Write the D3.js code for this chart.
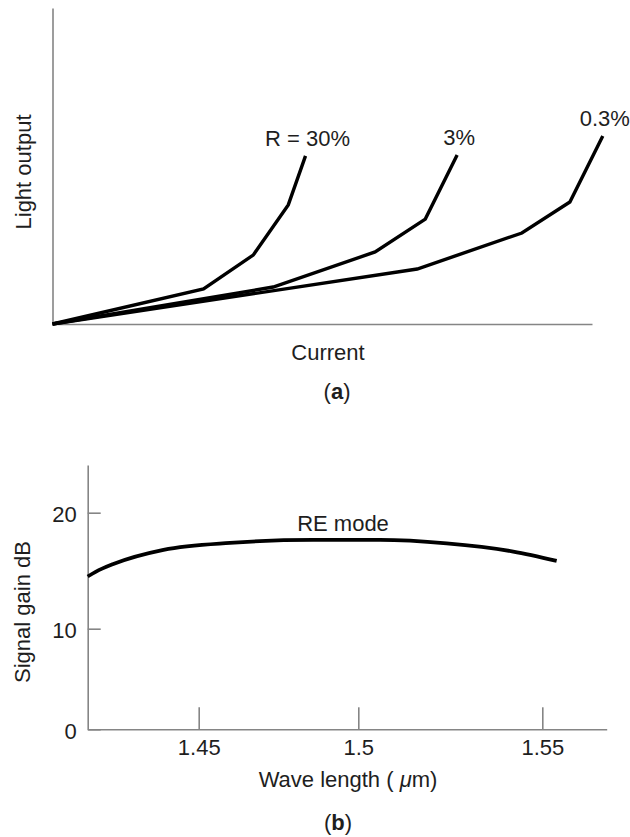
<!DOCTYPE html>
<html>
<head>
<meta charset="utf-8">
<script src="https://cdn.jsdelivr.net/npm/d3@7/dist/d3.min.js"></script>
<style>
  html, body { margin: 0; padding: 0; background: #fff; }
  svg { display: block; }
  text { font-family: "Liberation Sans", Arial, Helvetica, sans-serif; fill: #1e1e1e; }
</style>
</head>
<body>
<script>
// ---- (a) Light output vs current for three facet reflectivities (arbitrary units)
const reflectivityLabels = ["R = 30%", "3%", "0.3%"];
const currentR30  = [0, 28.0, 37.2, 43.7, 46.9];
const outputR30   = [0, 11.1, 21.8, 37.7, 53.2];
const currentR3   = [0, 40.9, 59.8, 69.1, 75.0];
const outputR3    = [0, 11.7, 22.8, 33.2, 53.5];
const currentR03  = [0, 67.6, 87.0, 95.9, 102.0];
const outputR03   = [0, 17.4, 28.8, 38.6, 59.5];

// ---- (b) Signal gain vs wavelength, RE mode
const wavelength = [1.415, 1.4175, 1.4233, 1.4389, 1.4598, 1.4859, 1.5059, 1.524, 1.5421, 1.5539];
const gainDb     = [14.5, 14.9, 15.6, 16.8, 17.4, 17.65, 17.65, 17.35, 16.65, 15.85];
const wavelengthTicks = [1.45, 1.5, 1.55];
const gainTicks = [0, 10, 20];

const W = 630, H = 837;
const FONT = 22;
const AXIS_COLOR = "#858585";

const svg = d3.select("body").append("svg")
  .attr("width", W).attr("height", H)
  .attr("viewBox", `0 0 ${W} ${H}`);
svg.append("rect").attr("width", W).attr("height", H).attr("fill", "#fff");

function styleAxis(g) {
  g.select(".domain").attr("stroke", AXIS_COLOR).attr("stroke-width", 1.6);
  g.selectAll(".tick line").attr("stroke", AXIS_COLOR).attr("stroke-width", 1.6);
  g.selectAll(".tick text")
    .attr("fill", "#1e1e1e")
    .style("font-size", FONT + "px")
    .style("font-family", "'Liberation Sans', Arial, Helvetica, sans-serif");
}

// ================= Panel (a) =================
const xA = d3.scaleLinear().domain([0, 100]).range([52.5, 592]);
const yA = d3.scaleLinear().domain([0, 100]).range([324, 8]);

svg.append("g")
  .attr("transform", `translate(0,${yA(0)})`)
  .call(d3.axisBottom(xA).tickValues([]).tickSizeOuter(0))
  .call(styleAxis);
svg.append("g")
  .attr("transform", `translate(${xA(0)},0)`)
  .call(d3.axisLeft(yA).tickValues([]).tickSizeOuter(0))
  .call(styleAxis);

const seriesA = [
  { label: reflectivityLabels[0], x: currentR30, y: outputR30 },
  { label: reflectivityLabels[1], x: currentR3,  y: outputR3 },
  { label: reflectivityLabels[2], x: currentR03, y: outputR03 }
];

const lineA = d3.line()
  .x(d => xA(d[0]))
  .y(d => yA(d[1]));

seriesA.forEach(s => {
  const pts = s.x.map((v, i) => [v, s.y[i]]);
  svg.append("path")
    .datum(pts)
    .attr("d", lineA)
    .attr("fill", "none")
    .attr("stroke", "#000")
    .attr("stroke-width", 3.4)
    .attr("stroke-linejoin", "miter")
    .attr("stroke-linecap", "butt");
  const top = pts[pts.length - 1];
  svg.append("text")
    .attr("x", xA(top[0]) + 2)
    .attr("y", yA(top[1]) - 10)
    .attr("text-anchor", "middle")
    .style("font-size", FONT + "px")
    .text(s.label);
});

svg.append("text")
  .attr("x", 328).attr("y", 360)
  .attr("text-anchor", "middle")
  .style("font-size", FONT + "px")
  .text("Current");

svg.append("text")
  .attr("transform", `translate(31,172) rotate(-90)`)
  .attr("text-anchor", "middle")
  .style("font-size", FONT + "px")
  .text("Light output");

const capA = svg.append("text")
  .attr("x", 337).attr("y", 399)
  .attr("text-anchor", "middle")
  .style("font-size", FONT + "px");
capA.append("tspan").text("(");
capA.append("tspan").attr("font-weight", "bold").text("a");
capA.append("tspan").text(")");

// ================= Panel (b) =================
// Axis drawn with its own (unevenly spaced) graduations
const xB = d3.scaleLinear()
  .domain([1.415, 1.45, 1.5, 1.55, 1.5675])
  .range([87.7, 198.7, 358.3, 542.3, 606.7]);
const yB = d3.scaleLinear()
  .domain([0, 10, 20, 24.1])
  .range([729.3, 628.7, 512.7, 465]);

svg.append("g")
  .attr("transform", `translate(0,${yB(0)})`)
  .call(d3.axisBottom(xB).tickValues(wavelengthTicks).tickFormat(d3.format("")).tickSizeInner(-22).tickSizeOuter(0).tickPadding(11))
  .call(styleAxis)
  .call(g => g.selectAll(".tick text").attr("y", 26).attr("dy", 0));

svg.append("g")
  .attr("transform", `translate(${xB(1.415)},0)`)
  .call(d3.axisLeft(yB).tickValues(gainTicks).tickSizeInner(-13).tickSizeOuter(0).tickPadding(11))
  .call(styleAxis)
  .call(g => g.selectAll(".tick text").attr("dy", "0.4em"));

const pointsB = wavelength.map((w, i) => [w, gainDb[i]]);
svg.append("path")
  .datum(pointsB)
  .attr("d", d3.line().x(d => xB(d[0])).y(d => yB(d[1])).curve(d3.curveMonotoneX))
  .attr("fill", "none")
  .attr("stroke", "#000")
  .attr("stroke-width", 3.8)
  .attr("stroke-linecap", "butt");

svg.append("text")
  .attr("x", 343).attr("y", 530.5)
  .attr("text-anchor", "middle")
  .style("font-size", FONT + "px")
  .text("RE mode");

svg.append("text")
  .attr("transform", `translate(30,612) rotate(-90)`)
  .attr("text-anchor", "middle")
  .style("font-size", FONT + "px")
  .text("Signal gain dB");

const titleB = svg.append("text")
  .attr("x", 348).attr("y", 787)
  .attr("text-anchor", "middle")
  .style("font-size", FONT + "px");
titleB.append("tspan").text("Wave length ( ");
titleB.append("tspan").attr("font-style", "italic").text("\u03BC");
titleB.append("tspan").text("m)");

const capB = svg.append("text")
  .attr("x", 338).attr("y", 830)
  .attr("text-anchor", "middle")
  .style("font-size", FONT + "px");
capB.append("tspan").text("(");
capB.append("tspan").attr("font-weight", "bold").text("b");
capB.append("tspan").text(")");
</script>
</body>
</html>
